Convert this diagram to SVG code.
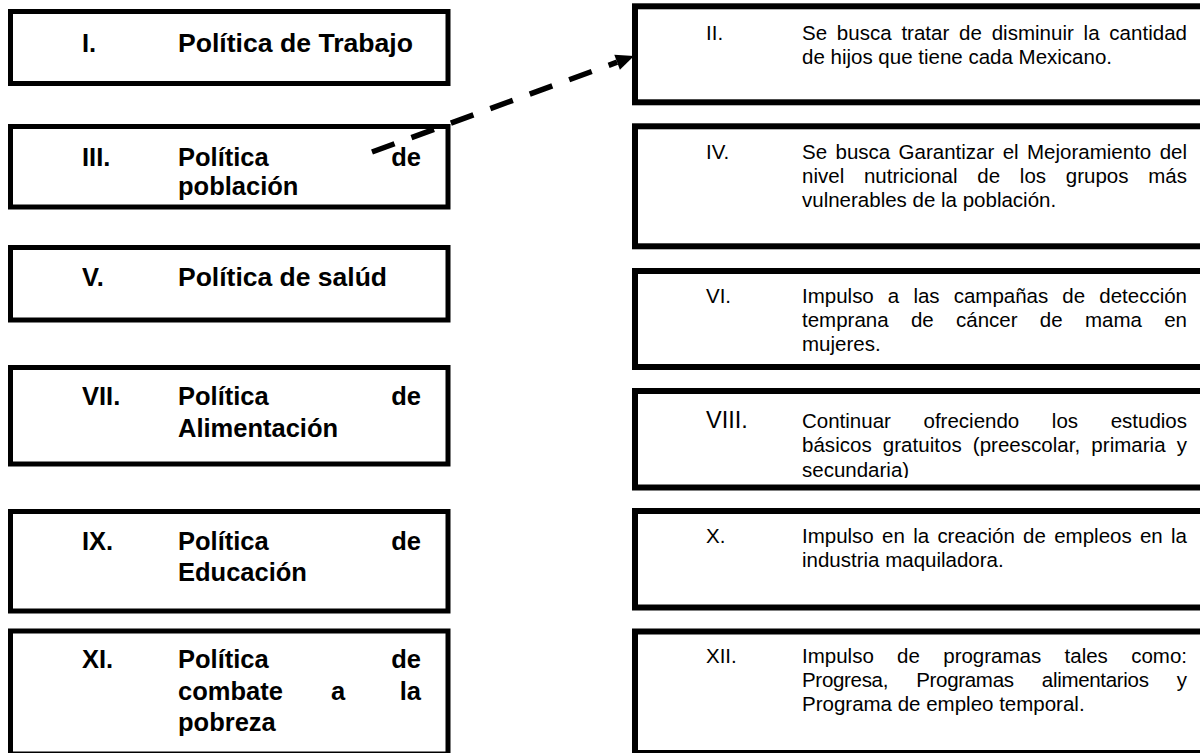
<svg xmlns="http://www.w3.org/2000/svg" width="1200" height="753" viewBox="0 0 1200 753">
<style>
.lb{fill:#fff;stroke:#000;stroke-width:5}
.rb{fill:#fff;stroke:#000;stroke-width:6}
.lt{font-family:"Liberation Sans",Arial,sans-serif;font-weight:bold;font-size:25.5px;fill:#000}
.rt{font-family:"Liberation Sans",Arial,sans-serif;font-size:20.5px;fill:#000}
.big{font-size:23.5px}
.end{text-anchor:end}
.dash{fill:none;stroke:#000;stroke-width:5.5;stroke-dasharray:24 18}
</style>
<defs>
<clipPath id="clip8"><rect x="638" y="394" width="570" height="84"/></clipPath>
</defs>
<rect width="1200" height="753" fill="#fff"/>

<g id="n1">
<rect class="lb" x="10.5" y="11.5" width="437.5" height="72"/>
<text class="lt" x="82" y="52">I.</text>
<text class="lt" x="178" y="52" textLength="235" lengthAdjust="spacingAndGlyphs">Política de Trabajo</text>
</g>
<g id="n3">
<rect class="lb" x="10.5" y="126.5" width="437.5" height="80.5"/>
<text class="lt" x="82" y="166">III.</text>
<text class="lt" x="178" y="166">Política</text>
<text class="lt end" x="421" y="166">de</text>
<text class="lt" x="178" y="195">población</text>
</g>
<g id="n5">
<rect class="lb" x="10.5" y="247.5" width="437.5" height="72.5"/>
<text class="lt" x="82" y="286">V.</text>
<text class="lt" x="178" y="286" textLength="209" lengthAdjust="spacingAndGlyphs">Política de salúd</text>
</g>
<g id="n7">
<rect class="lb" x="10.5" y="367.5" width="437.5" height="96.5"/>
<text class="lt" x="82" y="405">VII.</text>
<text class="lt" x="178" y="405">Política</text>
<text class="lt end" x="421" y="405">de</text>
<text class="lt" x="178" y="437">Alimentación</text>
</g>
<g id="n9">
<rect class="lb" x="10.5" y="511.5" width="437.5" height="99.5"/>
<text class="lt" x="82" y="550">IX.</text>
<text class="lt" x="178" y="550">Política</text>
<text class="lt end" x="421" y="550">de</text>
<text class="lt" x="178" y="581">Educación</text>
</g>
<g id="n11">
<rect class="lb" x="10.5" y="631" width="437.5" height="123"/>
<text class="lt" x="82" y="668">XI.</text>
<text class="lt" x="178" y="668">Política</text>
<text class="lt end" x="421" y="668">de</text>
<text class="lt" x="178" y="700">combate</text>
<text class="lt" x="331" y="700">a</text>
<text class="lt end" x="421" y="700">la</text>
<text class="lt" x="178" y="731">pobreza</text>
</g>

<g id="n2">
<rect class="rb" x="635" y="6.3" width="580" height="96"/>
<text class="rt" x="706" y="39.5">II.</text>
<text class="rt" x="802" y="39.5" word-spacing="4" textLength="385" lengthAdjust="spacing">Se busca tratar de disminuir la cantidad</text>
<text class="rt" x="802" y="64">de hijos que tiene cada Mexicano.</text>
</g>
<g id="n4">
<rect class="rb" x="635" y="126.3" width="580" height="120"/>
<text class="rt" x="706" y="158.5">IV.</text>
<text class="rt" x="802" y="158.5" word-spacing="2.7" textLength="385" lengthAdjust="spacing">Se busca Garantizar el Mejoramiento del</text>
<text class="rt" x="802" y="183" word-spacing="14" textLength="385" lengthAdjust="spacing">nivel nutricional de los grupos más</text>
<text class="rt" x="802" y="207">vulnerables de la población.</text>
</g>
<g id="n6">
<rect class="rb" x="635" y="271" width="580" height="96"/>
<text class="rt" x="706" y="303">VI.</text>
<text class="rt" x="802" y="303" word-spacing="8.4" textLength="385" lengthAdjust="spacing">Impulso a las campañas de detección</text>
<text class="rt" x="802" y="327" word-spacing="16.6" textLength="385" lengthAdjust="spacing">temprana de cáncer de mama en</text>
<text class="rt" x="802" y="351">mujeres.</text>
</g>
<g id="n8">
<rect class="rb" x="635" y="391" width="580" height="96.5"/>
<text class="rt big" x="706" y="428">VIII.</text>
<g clip-path="url(#clip8)">
<text class="rt" x="802" y="428" word-spacing="26.9" textLength="385" lengthAdjust="spacing">Continuar ofreciendo los estudios</text>
<text class="rt" x="802" y="452" word-spacing="5.4" textLength="385" lengthAdjust="spacing">básicos gratuitos (preescolar, primaria y</text>
<text class="rt" x="802" y="477">secundaria)</text>
</g>
</g>
<g id="n10">
<rect class="rb" x="635" y="511" width="580" height="96.5"/>
<text class="rt" x="706" y="543">X.</text>
<text class="rt" x="802" y="543" word-spacing="2.6" textLength="385" lengthAdjust="spacing">Impulso en la creación de empleos en la</text>
<text class="rt" x="802" y="567">industria maquiladora.</text>
</g>
<g id="n12">
<rect class="rb" x="635" y="631.5" width="580" height="121.5"/>
<text class="rt" x="706" y="663">XII.</text>
<text class="rt" x="802" y="663" word-spacing="17.6" textLength="385" lengthAdjust="spacing">Impulso de programas tales como:</text>
<text class="rt" x="802" y="687" word-spacing="22.8" textLength="385" lengthAdjust="spacing">Progresa, Programas alimentarios y</text>
<text class="rt" x="802" y="711">Programa de empleo temporal.</text>
</g>

<g id="connectors">
<path class="dash" d="M372 152 L617.1 62.2"/>
<polygon points="634,56 619.9,69.7 614.3,54.7" fill="#000"/>
</g>
</svg>
